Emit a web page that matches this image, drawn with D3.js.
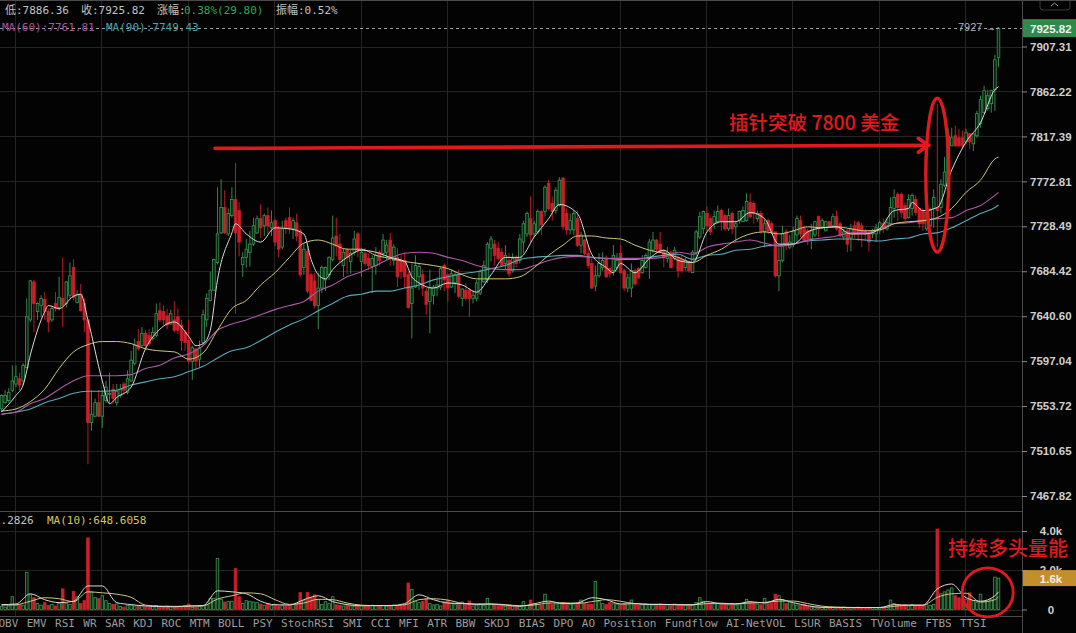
<!DOCTYPE html>
<html>
<head>
<meta charset="utf-8">
<script src="https://cdn.jsdelivr.net/npm/d3@7"></script>
<style>
    html, body { margin: 0; padding: 0; background: #030303; overflow: hidden; }
    svg { display: block; }
    text { font-family: "DejaVu Sans Mono", "Noto Sans CJK SC", monospace; }
</style>
</head>
<body>
<svg id="chart" width="1076" height="633"></svg>
<script>
// hourly candles, one line per 24 bars
const opens = [
    7551,7557,7559,7569,7575,7580,7578,7591,7637,7674,7645,7651,7657,7645,7637,7653,7649,7658,7653,7661,7688,7654,7662,7653,
    7637,7538,7544,7557,7544,7559,7565,7570,7557,7564,7575,7567,7578,7595,7616,7612,7624,7622,7619,7622,7646,7645,7641,7633,
    7637,7640,7632,7625,7617,7597,7609,7599,7615,7637,7656,7666,7693,7722,7747,7721,7739,7755,7744,7691,7698,7703,7711,7722,
    7736,7729,7739,7727,7734,7726,7708,7734,7737,7726,7732,7724,7688,7704,7681,7675,7651,7668,7676,7681,7696,7719,7711,7690,
    7705,7694,7703,7721,7694,7702,7697,7689,7690,7703,7702,7703,7715,7695,7698,7695,7695,7681,7653,7669,7679,7681,7665,7655,
    7661,7668,7669,7690,7681,7669,7673,7681,7658,7666,7666,7658,7658,7663,7674,7676,7707,7711,7707,7703,7692,7695,7685,7698,
    7695,7713,7721,7736,7721,7723,7743,7743,7771,7751,7744,7749,7776,7741,7725,7725,7736,7710,7715,7702,7692,7670,7680,7688,
    7697,7687,7685,7688,7702,7685,7668,7668,7685,7687,7683,7688,7697,7705,7715,7711,7705,7697,7703,7697,7698,7696,7688,7693,
    7683,7703,7718,7726,7741,7736,7731,7733,7744,7739,7726,7741,7728,7734,7733,7734,7752,7751,7736,7741,7723,7734,7731,7723,
    7680,7695,7723,7708,7711,7720,7734,7726,7724,7716,7720,7738,7728,7724,7733,7729,7738,7731,7718,7724,7717,7729,7732,7729,
    7724,7722,7721,7721,7724,7731,7726,7731,7746,7760,7760,7749,7737,7746,7755,7746,7744,7726,7729,7746,7747,7747,7769,7770,
    7808,7818,7816,7816,7812,7820,7810,7818,7830,7841,7845,7850,7864,7896.02
];
const closes = [
    7564,7564,7567,7578,7582,7574,7593,7640,7675,7653,7653,7658,7645,7635,7648,7648,7659,7651,7674,7680,7659,7662,7646,7637,
    7538,7546,7557,7544,7564,7572,7566,7561,7568,7570,7569,7580,7598,7612,7609,7624,7612,7614,7625,7643,7637,7637,7632,7643,
    7627,7627,7617,7615,7597,7610,7597,7610,7642,7658,7666,7696,7721,7747,7722,7741,7755,7722,7713,7698,7706,7711,7729,7736,
    7727,7739,7729,7732,7713,7706,7726,7727,7726,7734,7719,7681,7706,7665,7656,7651,7668,7688,7688,7698,7717,7709,7696,7703,
    7698,7702,7716,7705,7703,7692,7690,7697,7700,7695,7715,7710,7697,7708,7679,7684,7679,7649,7668,7690,7689,7668,7652,7668,
    7669,7671,7687,7676,7668,7682,7681,7660,7667,7658,7658,7661,7673,7684,7690,7711,7716,7700,7697,7690,7700,7682,7697,7692,
    7716,7731,7741,7720,7731,7743,7730,7767,7746,7743,7764,7774,7728,7725,7734,7741,7710,7720,7702,7690,7668,7680,7692,7695,
    7679,7682,7700,7695,7683,7668,7678,7685,7672,7678,7695,7700,7713,7715,7706,7703,7698,7703,7688,7705,7685,7685,7695,7685,
    7703,7723,7738,7743,7729,7723,7738,7743,7734,7726,7739,7726,7731,7743,7744,7753,7738,7741,7741,7724,7731,7724,7723,7680,
    7695,7721,7710,7713,7724,7736,7721,7715,7716,7724,7733,7726,7734,7733,7729,7738,7726,7720,7723,7711,7726,7721,7721,7722,
    7721,7713,7722,7727,7732,7726,7732,7747,7757,7747,7742,7736,7755,7759,7742,7731,7731,7742,7744,7757,7744,7770,7782,7818,
    7816,7808,7808,7808,7821,7812,7820,7840,7854,7863,7858,7863,7894,7925.82
];
const highs = [
    7565,7569,7571,7593,7593,7586,7595,7658,7676,7676,7654,7661,7664,7648,7651,7664,7679,7698,7675,7693,7696,7666,7672,7658,
    7637,7569,7561,7569,7569,7578,7586,7575,7575,7575,7577,7588,7607,7619,7628,7630,7627,7628,7630,7653,7654,7651,7648,7647,
    7655,7648,7637,7627,7637,7612,7610,7617,7647,7663,7684,7697,7767,7775,7764,7746,7767,7791,7752,7703,7716,7724,7737,7739,
    7750,7741,7747,7744,7736,7729,7734,7737,7747,7737,7741,7726,7712,7708,7683,7683,7683,7690,7689,7699,7739,7737,7721,7707,
    7707,7705,7724,7723,7707,7707,7702,7700,7708,7705,7721,7715,7722,7711,7707,7700,7703,7684,7692,7700,7692,7686,7668,7686,
    7671,7679,7689,7692,7682,7686,7684,7686,7668,7673,7668,7666,7676,7686,7695,7713,7719,7715,7713,7707,7710,7702,7702,7700,
    7721,7734,7743,7758,7734,7745,7744,7769,7774,7758,7767,7777,7777,7746,7741,7744,7744,7723,7716,7710,7697,7690,7702,7703,
    7700,7688,7710,7702,7710,7687,7682,7692,7687,7688,7700,7702,7716,7723,7716,7723,7706,7708,7705,7708,7700,7700,7698,7695,
    7705,7725,7743,7744,7748,7738,7744,7749,7746,7741,7746,7743,7734,7744,7748,7761,7761,7753,7744,7744,7736,7736,7733,7723,
    7708,7729,7726,7720,7728,7739,7739,7729,7726,7731,7734,7739,7736,7734,7734,7741,7744,7733,7726,7726,7731,7734,7734,7732,
    7726,7724,7726,7731,7734,7736,7736,7757,7765,7762,7762,7752,7760,7761,7759,7747,7746,7746,7747,7765,7850,7775,7797,7826,
    7826,7828,7825,7823,7825,7821,7820,7843,7858,7868,7864,7864,7899,7927
];
const lows = [
    7548,7556,7557,7567,7572,7569,7574,7590,7635,7625,7637,7640,7637,7625,7635,7645,7646,7630,7649,7658,7656,7653,7645,7625,
    7498,7530,7543,7543,7533,7557,7556,7556,7554,7562,7565,7565,7577,7593,7607,7611,7609,7612,7617,7620,7635,7632,7628,7632,
    7625,7623,7607,7607,7595,7579,7589,7591,7613,7630,7655,7665,7691,7721,7721,7719,7737,7643,7699,7679,7688,7689,7709,7721,
    7717,7719,7721,7719,7709,7698,7706,7721,7721,7716,7714,7679,7681,7663,7655,7648,7628,7663,7665,7676,7694,7699,7693,7679,
    7682,7682,7700,7698,7679,7689,7686,7663,7681,7690,7697,7695,7690,7690,7669,7677,7668,7648,7619,7668,7666,7660,7642,7624,
    7652,7660,7666,7665,7655,7668,7663,7658,7650,7656,7640,7653,7655,7661,7673,7673,7694,7690,7695,7689,7686,7679,7683,7688,
    7692,7702,7718,7713,7718,7721,7720,7738,7744,7734,7741,7748,7725,7720,7721,7720,7708,7702,7700,7687,7667,7665,7678,7685,
    7678,7678,7680,7685,7682,7665,7664,7659,7670,7677,7682,7687,7677,7702,7702,7702,7688,7693,7687,7695,7678,7683,7685,7683,
    7683,7695,7716,7721,7724,7720,7726,7731,7724,7724,7724,7721,7713,7731,7733,7733,7736,7731,7733,7721,7708,7721,7721,7678,
    7665,7693,7705,7706,7708,7711,7718,7713,7710,7706,7718,7718,7726,7724,7728,7728,7724,7718,7715,7703,7704,7717,7714,7708,
    7714,7704,7717,7713,7721,7722,7724,7729,7737,7734,7737,7734,7736,7739,7739,7727,7724,7724,7727,7727,7708,7741,7767,7767,
    7808,7807,7807,7805,7810,7805,7803,7816,7826,7840,7843,7841,7843,7886.36
];
const volumes = [
    150,120,180,650,200,250,220,1900,750,600,300,220,350,200,250,180,300,1050,300,250,920,650,300,450,
    3650,900,600,570,700,450,300,250,280,150,120,200,220,180,200,180,130,120,180,200,100,130,180,150,
    120,120,150,200,280,100,130,150,180,250,570,560,2600,520,380,400,420,2080,650,300,450,420,380,350,
    280,220,300,200,260,180,230,180,200,260,300,860,450,860,600,740,500,260,400,300,650,240,200,180,
    220,180,150,220,200,190,170,220,180,200,210,170,220,230,180,190,260,1350,1020,400,350,420,570,300,
    230,260,180,400,480,330,270,250,380,240,430,180,230,270,200,570,260,230,210,200,150,190,170,160,
    150,400,200,480,300,260,230,780,350,250,280,300,350,300,260,280,350,480,300,280,260,1430,420,300,
    260,350,300,280,250,300,240,480,260,220,240,280,260,230,270,290,260,240,200,280,230,260,220,250,
    220,350,600,420,300,260,280,320,300,260,240,270,230,280,300,520,350,300,280,240,570,300,350,780,
    700,500,300,380,280,220,200,250,160,130,120,110,100,100,90,110,120,100,120,100,80,90,120,100,
    90,110,100,90,80,100,120,480,300,260,220,240,180,260,200,220,180,240,200,260,4100,800,900,1000,
    1100,700,600,550,500,850,450,350,780,400,430,500,1650,1600
];

// moving averages every 4 bars (last one at the final bar)
const maBars = [
    0,4,8,12,16,20,24,28,32,36,40,44,48,52,56,60,64,68,72,76,80,84,88,92,96,100,104,108,112,116,120,124,128,132,
    136,140,144,148,152,156,160,164,168,172,176,180,184,188,192,196,200,204,208,212,216,220,224,228,232,236,240,
    244,248,252,256,260,264,268,272,276,277
];
const maSlow = [
    7549,7551,7558,7570,7590,7606,7613,7616,7616,7614,7609,7607,7606,7599,7605,7627,7648,7656,7671,7683,7698,7712,7715,7711,
    7706,7706,7700,7697,7694,7692,7690,7687,7681,7677,7677,7677,7679,7688,7700,7710,7719,7719,7717,7716,7710,7705,7702,7698,
    7693,7700,7706,7715,7721,7723,7721,7724,7728,7727,7728,7726,7724,7725,7731,7733,7734,7737,7746,7762,7774,7795,7797
];
const ma60 = [
    7546,7548,7556,7561,7570,7578,7583,7583,7583,7584,7590,7593,7600,7604,7612,7627,7633,7637,7642,7647,7651,7655,7665,7671,
    7679,7684,7690,7697,7702,7703,7702,7698,7695,7690,7687,7686,7686,7690,7695,7698,7699,7698,7697,7697,7697,7697,7698,7703,
    7701,7708,7711,7713,7715,7712,7709,7711,7715,7717,7719,7722,7722,7726,7731,7732,7734,7736,7737,7744,7749,7759,7761.81
];
const ma90 = [
    7546,7548,7551,7557,7561,7566,7568,7568,7569,7574,7577,7580,7582,7587,7592,7600,7607,7610,7617,7625,7632,7638,7646,7653,
    7660,7662,7665,7665,7668,7671,7676,7679,7682,7684,7687,7690,7696,7698,7699,7700,7700,7698,7697,7696,7696,7698,7700,7701,
    7696,7700,7701,7705,7706,7709,7710,7711,7714,7715,7716,7716,7715,7714,7716,7717,7721,7722,7727,7734,7741,7747,7749.43
];
// the fast average turns quicker, so it carries a few extra points
const fastBars = [
    0,4,6,8,12,13,16,20,22,24,28,30,32,36,40,44,48,52,54,56,58,60,64,65,68,72,76,80,84,86,88,90,92,96,100,104,108,112,114,116,
    120,124,128,132,136,140,144,148,152,155,160,164,168,170,172,176,180,184,188,192,196,200,204,208,212,216,220,224,228,232,
    236,240,244,248,252,253,256,260,264,268,272,276,277
];
const maFast = [
    7548,7564,7574,7603,7645,7651,7648,7660,7662,7637,7578,7556,7562,7572,7609,7628,7635,7621,7612,7614,7627,7676,7722,7731,
    7721,7713,7727,7726,7721,7696,7681,7677,7686,7698,7705,7703,7698,7694,7679,7673,7668,7673,7671,7664,7681,7698,7698,7718,
    7736,7750,7741,7701,7688,7683,7692,7683,7697,7705,7695,7693,7723,7733,7733,7742,7736,7711,7711,7723,7727,7728,7721,7721,
    7726,7744,7746,7752,7744,7747,7784,7812,7831,7864,7867
];
const volMaFast = [
    250,280,800,500,350,420,1200,1200,350,250,180,150,140,180,200,950,900,800,420,240,230,500,700,400,250,190,200,200,300,750,
    500,330,300,260,280,220,170,290,430,300,330,600,500,280,300,250,260,240,240,400,290,280,400,330,520,350,190,110,105,100,
    100,100,250,220,220,1050,1300,600,420,700,900
];
const volMaSlow = [
    220,240,420,600,550,400,900,850,780,620,220,170,160,170,190,530,700,850,800,500,260,330,520,500,330,220,200,200,240,500,
    550,480,320,280,280,250,190,230,330,340,310,400,500,420,300,270,260,250,240,300,320,290,330,360,430,430,300,170,120,105,
    100,100,160,220,220,620,800,830,380,500,648.6
];

const priceTicks = [7907.31, 7862.22, 7817.39, 7772.81, 7728.49, 7684.42, 7640.60, 7597.04, 7553.72, 7510.65, 7467.82];
const volumeTicks = [0, 2000, 4000];
const indicatorTabs = ["OBV","EMV","RSI","WR","SAR","KDJ","ROC","MTM","BOLL","PSY","StochRSI","SMI","CCI","MFI","ATR","BBW",
    "SKDJ","BIAS","DPO","AO","Position","Fundflow","AI-NetVOL","LSUR","BASIS","TVolume","FTBS","TTSI"];

const lastPrice = 7925.82;
const lastVolume = 1600;
const width = 1076;
const height = 633;
const axisX = 1022;

const UP = "#3a9652";
const DOWN = "#cc2029";
const RED_INK = "#e2191c";
const GRID = "#242424";

const svg = d3.select("#chart");

const x = d3.scaleLinear().domain([0, 277]).range([1.55, 998.5]);
const y = d3.scaleLog().domain([7467.82, 7907.31]).range([496, 46.5]);
const yVol = d3.scaleLinear().domain([0, 4000]).range([609.5, 531]);

// grid falls every 24 bars
const gridBars = d3.range(3.74, 277, 24);

const grid = svg.append("g").attr("stroke", GRID).attr("stroke-width", 1);
grid.selectAll(".v").data(gridBars).enter().append("line")
    .attr("x1", d => Math.round(x(d)) + 0.5).attr("x2", d => Math.round(x(d)) + 0.5)
    .attr("y1", 0).attr("y2", 617);
grid.selectAll(".h").data(priceTicks).enter().append("line")
    .attr("x1", 0).attr("x2", axisX)
    .attr("y1", d => Math.round(y(d)) + 0.5).attr("y2", d => Math.round(y(d)) + 0.5);
grid.selectAll(".hv").data(volumeTicks).enter().append("line")
    .attr("x1", 0).attr("x2", axisX)
    .attr("y1", d => Math.round(yVol(d)) + 0.5).attr("y2", d => Math.round(yVol(d)) + 0.5);

// panel frame
const frame = svg.append("g").attr("stroke", "#4a4a4a").attr("stroke-width", 1);
frame.append("line").attr("x1", 0).attr("x2", width).attr("y1", 0.5).attr("y2", 0.5);
frame.append("line").attr("x1", 0).attr("x2", axisX).attr("y1", 511.5).attr("y2", 511.5);
frame.append("line").attr("x1", 0).attr("x2", axisX).attr("y1", 616.5).attr("y2", 616.5);
frame.append("line").attr("x1", axisX + 0.5).attr("x2", axisX + 0.5).attr("y1", 0).attr("y2", height);

const bars = d3.range(opens.length);
const isUp = i => closes[i] >= opens[i];
const barWidth = 2.6;

const candles = svg.append("g").selectAll("g").data(bars).enter().append("g");
candles.append("line")
    .attr("x1", i => x(i)).attr("x2", i => x(i))
    .attr("y1", i => y(highs[i])).attr("y2", i => y(lows[i]))
    .attr("stroke", i => isUp(i) ? UP : DOWN)
    .attr("stroke-width", 0.9);
candles.append("rect")
    .attr("x", i => x(i) - barWidth / 2)
    .attr("width", barWidth)
    .attr("y", i => y(Math.max(opens[i], closes[i])))
    .attr("height", i => Math.max(0.8, y(Math.min(opens[i], closes[i])) - y(Math.max(opens[i], closes[i]))))
    .attr("fill", i => isUp(i) ? "#0b1f10" : DOWN)
    .attr("stroke", i => isUp(i) ? UP : DOWN)
    .attr("stroke-width", 0.8);

const maLine = (xs, values, scale) => d3.line()
    .x((d, i) => x(xs[i]))
    .y(d => scale(d))
    .curve(d3.curveMonotoneX)(values);

const maSeries = [
    { bars: maBars, values: ma90, color: "#5aa9b8", w: 1.1 },
    { bars: maBars, values: ma60, color: "#ab5aa4", w: 1.1 },
    { bars: maBars, values: maSlow, color: "#cfc67c", w: 1 },
    { bars: fastBars, values: maFast, color: "#d8d8d8", w: 1 }
];
svg.append("g").attr("fill", "none").selectAll("path").data(maSeries).enter().append("path")
    .attr("d", d => maLine(d.bars, d.values, y))
    .attr("stroke", d => d.color)
    .attr("stroke-width", d => d.w);

// volume panel
svg.append("g").selectAll("rect").data(bars).enter().append("rect")
    .attr("x", i => x(i) - barWidth / 2)
    .attr("width", barWidth)
    .attr("y", i => yVol(volumes[i]))
    .attr("height", i => yVol(0) - yVol(volumes[i]))
    .attr("fill", i => isUp(i) ? "#0b1f10" : DOWN)
    .attr("stroke", i => isUp(i) ? UP : DOWN)
    .attr("stroke-width", 0.8);

svg.append("g").attr("fill", "none").selectAll("path")
    .data([{ values: volMaSlow, color: "#cfc67c" }, { values: volMaFast, color: "#d8d8d8" }])
    .enter().append("path")
    .attr("d", d => maLine(maBars, d.values, yVol))
    .attr("stroke", d => d.color)
    .attr("stroke-width", 1);

// last price dashed line
svg.append("line")
    .attr("x1", 0).attr("x2", axisX)
    .attr("y1", Math.round(y(lastPrice)) + 0.5).attr("y2", Math.round(y(lastPrice)) + 0.5)
    .attr("stroke", "#b9c9c0")
    .attr("stroke-width", 0.8)
    .attr("stroke-dasharray", "3,3");

svg.append("text").attr("x", 958).attr("y", 31)
    .attr("fill", "#b0b0b0").attr("font-size", 11)
    .style("font-family", '"Liberation Sans", sans-serif')
    .text("7927 →");

// axes
const labelFont = '"Liberation Sans", Arial, sans-serif';
const priceAxis = d3.axisRight(y).tickValues(priceTicks).tickFormat(d => d.toFixed(2)).tickSize(5).tickPadding(3);
const axisG = svg.append("g").attr("transform", `translate(${axisX},0)`).call(priceAxis);
const volAxis = d3.axisRight(yVol).tickValues(volumeTicks)
    .tickFormat(d => d === 0 ? "0" : (d / 1000).toFixed(1) + "k").tickSize(5);
const volG = svg.append("g").attr("transform", `translate(${axisX},0)`).call(volAxis);
[axisG, volG].forEach(g => {
    g.select(".domain").remove();
    g.selectAll("line").attr("stroke", "#8a8a8a");
    g.selectAll("text").attr("fill", "#cfcfcf").attr("font-size", 11.5).attr("font-weight", 700)
        .style("font-family", labelFont);
});
volG.selectAll("text").attr("x", 29).attr("text-anchor", "middle");

// price and volume tags on the axis
svg.append("rect").attr("x", axisX + 1).attr("y", y(lastPrice) - 9).attr("width", width - axisX).attr("height", 18).attr("fill", "#2f8a4c");
svg.append("text").attr("x", 1030).attr("y", y(lastPrice) + 4.5)
    .attr("fill", "#eef5ef").attr("font-size", 11.5).attr("font-weight", 700)
    .style("font-family", labelFont)
    .text(lastPrice.toFixed(2));
svg.append("rect").attr("x", axisX + 1).attr("y", yVol(lastVolume) - 8).attr("width", width - axisX).attr("height", 16).attr("fill", "#c48e2e");
svg.append("text").attr("x", 1051).attr("y", yVol(lastVolume) + 4.5)
    .attr("text-anchor", "middle")
    .attr("fill", "#f5efe0").attr("font-size", 11.5).attr("font-weight", 700)
    .style("font-family", labelFont)
    .text((lastVolume / 1000).toFixed(1) + "k");

// small collapse button top right
svg.append("path").attr("d", "M1040,1 V7 Q1040,10 1043,10 H1067 Q1070,10 1070,7 V1")
    .attr("fill", "none").attr("stroke", "#3a3a3a");
svg.append("path").attr("d", "M1051,6 L1054.5,3 L1058,6").attr("fill", "none").attr("stroke", "#9a9a9a");

// header read-outs
const header = svg.append("g").attr("font-size", 11);
header.append("text").attr("x", 5).attr("y", 14).attr("fill", "#c4c4c4").text("低:7886.36");
header.append("text").attr("x", 81).attr("y", 14).attr("fill", "#c4c4c4").text("收:7925.82");
header.append("text").attr("x", 157).attr("y", 14).attr("fill", "#c4c4c4").text("涨幅:");
header.append("text").attr("x", 184).attr("y", 14).attr("fill", "#2fa655").text("0.38%(29.80)");
header.append("text").attr("x", 276).attr("y", 14).attr("fill", "#c4c4c4").text("振幅:0.52%");
header.append("text").attr("x", 2).attr("y", 31).attr("fill", "#a8559f").text("MA(60):7761.81");
header.append("text").attr("x", 106).attr("y", 31).attr("fill", "#4ba3b3").text("MA(90):7749.43");
header.append("text").attr("x", -6).attr("y", 524).attr("fill", "#c4c4c4").text("1.2826");
header.append("text").attr("x", 47).attr("y", 524).attr("fill", "#d8c45f").text("MA(10):648.6058");

// indicator tabs along the bottom
let tabX = -1.5;
svg.append("g").selectAll("text").data(indicatorTabs).enter().append("text")
    .attr("y", 627)
    .attr("font-size", 11)
    .attr("fill", "#9c9c9c")
    .attr("x", d => {
        const at = tabX;
        tabX += d.length * 6.62 + 8.4;
        return at;
    })
    .text(d => d);

// hand-drawn notes
const notes = svg.append("g").attr("fill", "none").attr("stroke", RED_INK).attr("stroke-linecap", "round");
const arrowEnd = [x(257.5), y(7808.5)];
notes.append("line")
    .attr("x1", x(59.3)).attr("y1", y(7805.5))
    .attr("x2", arrowEnd[0]).attr("y2", arrowEnd[1])
    .attr("stroke-width", 3.6);
notes.append("path")
    .attr("d", `M${arrowEnd[0] - 10},${arrowEnd[1] - 7} L${arrowEnd[0]},${arrowEnd[1]} L${arrowEnd[0] - 10},${arrowEnd[1] + 7}`)
    .attr("stroke-width", 3.6);
notes.append("ellipse")
    .attr("cx", x(260)).attr("cy", y(7779))
    .attr("rx", 11.5).attr("ry", 77)
    .attr("stroke-width", 3.4);
notes.append("ellipse")
    .attr("cx", x(274)).attr("cy", yVol(870))
    .attr("rx", 25.5).attr("ry", 24.5)
    .attr("stroke-width", 2.8);

const noteFont = '"Noto Sans CJK SC", sans-serif';
svg.append("text").attr("x", 729).attr("y", 130)
    .attr("fill", RED_INK).attr("font-size", 19.5).attr("font-weight", 500)
    .style("font-family", noteFont)
    .text("插针突破 7800 美金");
svg.append("text").attr("x", 948).attr("y", 556)
    .attr("fill", RED_INK).attr("font-size", 20).attr("font-weight", 500)
    .style("font-family", noteFont)
    .text("持续多头量能");
</script>
</body>
</html>
